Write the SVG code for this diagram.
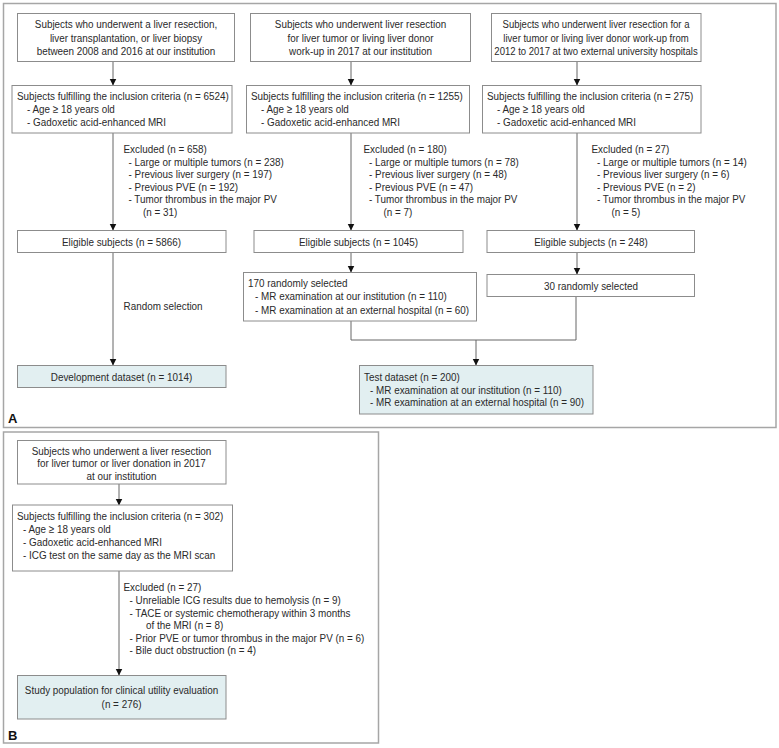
<svg xmlns="http://www.w3.org/2000/svg" width="779" height="748" viewBox="0 0 779 748">
<defs>
<marker id="ah" markerWidth="7" markerHeight="8" refX="6.5" refY="4" orient="auto" markerUnits="userSpaceOnUse">
<path d="M0,0.5 L7,4 L0,7.5 Z" fill="#111"/>
</marker>
<style>
text{font-family:"Liberation Sans",Arial,sans-serif;font-size:11.5px;fill:#2a2a2a}
.c{text-anchor:middle}
.box{fill:#fff;stroke:#8c8c8c;stroke-width:1}
.res{fill:#e2eff1;stroke:#8c8c8c;stroke-width:1}
.panel{fill:none;stroke:#a6a6a6;stroke-width:1.5}
.ln{fill:none;stroke:#666;stroke-width:1}
.arr{fill:none;stroke:#666;stroke-width:1;marker-end:url(#ah)}
.lbl{font-family:"Liberation Sans",Arial,sans-serif;font-weight:bold;font-size:13px;fill:#111}
</style>
</defs>
<rect width="779" height="748" fill="#fff"/>
<rect class="panel" x="3.5" y="3.5" width="772.5" height="424"/>
<rect class="panel" x="3.5" y="432" width="375" height="311"/>
<text class="lbl" x="8" y="423">A</text>
<text class="lbl" x="8" y="740">B</text>

<g id="connectors">
<line class="arr" x1="113" y1="62" x2="113" y2="85"/>
<line class="arr" x1="351" y1="62" x2="351" y2="85"/>
<line class="arr" x1="577" y1="62" x2="577" y2="85"/>
<line class="arr" x1="113" y1="133" x2="113" y2="230"/>
<line class="arr" x1="351" y1="133" x2="351" y2="230"/>
<line class="arr" x1="577" y1="133" x2="577" y2="230"/>
<line class="arr" x1="113" y1="253" x2="113" y2="365"/>
<line class="arr" x1="351" y1="253" x2="351" y2="272"/>
<line class="arr" x1="577" y1="253" x2="577" y2="274"/>
<polyline class="ln" points="351,321 351,340 576,340 576,296"/>
<line class="arr" x1="476" y1="340" x2="476" y2="365"/>
<line class="arr" x1="119" y1="484" x2="119" y2="505"/>
<line class="arr" x1="119" y1="571" x2="119" y2="675"/>
</g>

<g id="a-src1"><rect class="box" x="17.5" y="13.5" width="217" height="48"/>
<text class="c" transform="translate(126,28) scale(0.86,1)">Subjects who underwent a liver resection,</text>
<text class="c" transform="translate(126,41.5) scale(0.86,1)">liver transplantation, or liver biopsy</text>
<text class="c" transform="translate(126,55) scale(0.86,1)">between 2008 and 2016 at our institution</text></g>

<g id="a-src2"><rect class="box" x="250.5" y="13.5" width="220" height="48"/>
<text class="c" transform="translate(360.5,28) scale(0.86,1)">Subjects who underwent liver resection</text>
<text class="c" transform="translate(360.5,41.5) scale(0.86,1)">for liver tumor or living liver donor</text>
<text class="c" transform="translate(360.5,55) scale(0.86,1)">work-up in 2017 at our institution</text></g>

<g id="a-src3"><rect class="box" x="491.5" y="13.5" width="209.5" height="48"/>
<text class="c" transform="translate(596,28) scale(0.83,1)">Subjects who underwent liver resection for a</text>
<text class="c" transform="translate(596,41.5) scale(0.83,1)">liver tumor or living liver donor work-up from</text>
<text class="c" transform="translate(596,55) scale(0.83,1)">2012 to 2017 at two external university hospitals</text></g>

<g id="a-inc1"><rect class="box" x="12" y="85.5" width="220" height="47.5"/>
<text transform="translate(17,100) scale(0.86,1)">Subjects fulfilling the inclusion criteria (n = 6524)</text>
<text transform="translate(27,113) scale(0.86,1)">- Age ≥ 18 years old</text>
<text transform="translate(27,126) scale(0.86,1)">- Gadoxetic acid-enhanced MRI</text></g>

<g id="a-inc2"><rect class="box" x="246.5" y="85.5" width="223" height="47.5"/>
<text transform="translate(251,100) scale(0.86,1)">Subjects fulfilling the inclusion criteria (n = 1255)</text>
<text transform="translate(261,113) scale(0.86,1)">- Age ≥ 18 years old</text>
<text transform="translate(261,126) scale(0.86,1)">- Gadoxetic acid-enhanced MRI</text></g>

<g id="a-inc3"><rect class="box" x="482.5" y="85.5" width="218.5" height="47.5"/>
<text transform="translate(487,100) scale(0.86,1)">Subjects fulfilling the inclusion criteria (n = 275)</text>
<text transform="translate(497,113) scale(0.86,1)">- Age ≥ 18 years old</text>
<text transform="translate(497,126) scale(0.86,1)">- Gadoxetic acid-enhanced MRI</text></g>

<g id="a-exc1">
<text transform="translate(123.5,153) scale(0.86,1)">Excluded (n = 658)</text>
<text transform="translate(128.5,165.5) scale(0.86,1)">- Large or multiple tumors (n = 238)</text>
<text transform="translate(128.5,178) scale(0.86,1)">- Previous liver surgery (n = 197)</text>
<text transform="translate(128.5,190.5) scale(0.86,1)">- Previous PVE (n = 192)</text>
<text transform="translate(128.5,203) scale(0.86,1)">- Tumor thrombus in the major PV</text>
<text transform="translate(143,215.5) scale(0.86,1)">(n = 31)</text></g>

<g id="a-exc2">
<text transform="translate(363.5,153) scale(0.86,1)">Excluded (n = 180)</text>
<text transform="translate(369,165.5) scale(0.86,1)">- Large or multiple tumors (n = 78)</text>
<text transform="translate(369,178) scale(0.86,1)">- Previous liver surgery (n = 48)</text>
<text transform="translate(369,190.5) scale(0.86,1)">- Previous PVE (n = 47)</text>
<text transform="translate(369,203) scale(0.86,1)">- Tumor thrombus in the major PV</text>
<text transform="translate(383.5,215.5) scale(0.86,1)">(n = 7)</text></g>

<g id="a-exc3">
<text transform="translate(591.5,153) scale(0.86,1)">Excluded (n = 27)</text>
<text transform="translate(597,165.5) scale(0.86,1)">- Large or multiple tumors (n = 14)</text>
<text transform="translate(597,178) scale(0.86,1)">- Previous liver surgery (n = 6)</text>
<text transform="translate(597,190.5) scale(0.86,1)">- Previous PVE (n = 2)</text>
<text transform="translate(597,203) scale(0.86,1)">- Tumor thrombus in the major PV</text>
<text transform="translate(611.5,215.5) scale(0.86,1)">(n = 5)</text></g>

<g id="a-elig1"><rect class="box" x="17.5" y="230.5" width="208.5" height="22"/>
<text class="c" transform="translate(121.5,245.5) scale(0.86,1)">Eligible subjects (n = 5866)</text></g>
<g id="a-elig2"><rect class="box" x="254" y="230.5" width="209" height="22"/>
<text class="c" transform="translate(358.5,245.5) scale(0.86,1)">Eligible subjects (n = 1045)</text></g>
<g id="a-elig3"><rect class="box" x="487" y="230.5" width="207.5" height="22"/>
<text class="c" transform="translate(591,245.5) scale(0.86,1)">Eligible subjects (n = 248)</text></g>

<g id="a-rand-label"><text transform="translate(123.5,309.5) scale(0.86,1)">Random selection</text></g>

<g id="a-sel170"><rect class="box" x="243.5" y="272.5" width="233" height="48.5"/>
<text transform="translate(248,287) scale(0.86,1)">170 randomly selected</text>
<text transform="translate(255,300) scale(0.86,1)">- MR examination at our institution (n = 110)</text>
<text transform="translate(255,313.5) scale(0.86,1)">- MR examination at an external hospital (n = 60)</text></g>

<g id="a-sel30"><rect class="box" x="487" y="274.5" width="207.5" height="22"/>
<text class="c" transform="translate(591,289.5) scale(0.86,1)">30 randomly selected</text></g>

<g id="a-dev"><rect class="res" x="17.5" y="365.5" width="208.5" height="22"/>
<text class="c" transform="translate(121.5,381) scale(0.86,1)">Development dataset (n = 1014)</text></g>

<g id="a-test"><rect class="res" x="359.5" y="365.5" width="233.5" height="48.5"/>
<text transform="translate(364,381) scale(0.86,1)">Test dataset (n = 200)</text>
<text transform="translate(370,393.5) scale(0.86,1)">- MR examination at our institution (n = 110)</text>
<text transform="translate(370,406) scale(0.86,1)">- MR examination at an external hospital (n = 90)</text></g>

<g id="b-src"><rect class="box" x="17.5" y="440.5" width="208.5" height="43.5"/>
<text class="c" transform="translate(121.5,454.5) scale(0.86,1)">Subjects who underwent a liver resection</text>
<text class="c" transform="translate(121.5,467) scale(0.86,1)">for liver tumor or liver donation in 2017</text>
<text class="c" transform="translate(121.5,479.5) scale(0.86,1)">at our institution</text></g>

<g id="b-inc"><rect class="box" x="12.5" y="505" width="220" height="66"/>
<text transform="translate(17,520) scale(0.86,1)">Subjects fulfilling the inclusion criteria (n = 302)</text>
<text transform="translate(23,533) scale(0.86,1)">- Age ≥ 18 years old</text>
<text transform="translate(23,546) scale(0.86,1)">- Gadoxetic acid-enhanced MRI</text>
<text transform="translate(23,559) scale(0.86,1)">- ICG test on the same day as the MRI scan</text></g>

<g id="b-exc">
<text transform="translate(123.5,591) scale(0.86,1)">Excluded (n = 27)</text>
<text transform="translate(129.5,604) scale(0.86,1)">- Unreliable ICG results due to hemolysis (n = 9)</text>
<text transform="translate(129.5,616.5) scale(0.86,1)">- TACE or systemic chemotherapy within 3 months</text>
<text transform="translate(146,629) scale(0.86,1)">of the MRI (n = 8)</text>
<text transform="translate(129.5,641.5) scale(0.86,1)">- Prior PVE or tumor thrombus in the major PV (n = 6)</text>
<text transform="translate(129.5,654) scale(0.86,1)">- Bile duct obstruction (n = 4)</text></g>

<g id="b-study"><rect class="res" x="17.5" y="675.5" width="208.5" height="43.5"/>
<text class="c" transform="translate(121.5,694) scale(0.86,1)">Study population for clinical utility evaluation</text>
<text class="c" transform="translate(121.5,708) scale(0.86,1)">(n = 276)</text></g>
</svg>
